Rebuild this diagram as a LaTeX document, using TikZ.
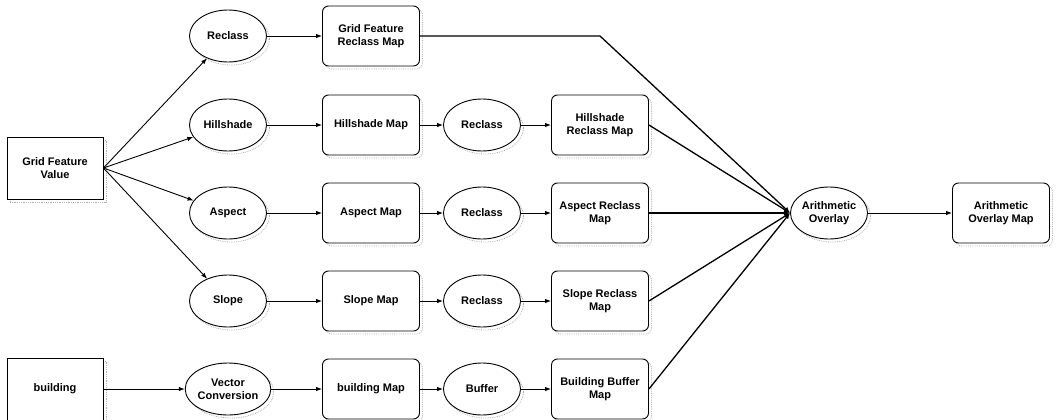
\documentclass[tikz,border=0pt]{standalone}
\usepackage{fontspec}
\setmainfont{Liberation Sans}
\usetikzlibrary{shapes.geometric,shadows,arrows.meta}
\begin{document}
\begin{tikzpicture}[x=1pt,y=-1pt,
  font=\fontsize{11}{13}\selectfont\bfseries,
  sh/.style={copy shadow={shadow xshift=3pt,shadow yshift=-3pt,draw=gray!60,line width=0.8pt,densely dotted,fill=white}},
  sqbox/.style={rectangle,draw,line width=0.9pt,fill=white,minimum width=96pt,minimum height=62pt,align=center,sh},
  mapbox/.style={rectangle,rounded corners=6pt,draw,line width=0.9pt,fill=white,minimum width=97pt,minimum height=60pt,align=center,sh},
  proc/.style={ellipse,draw,line width=0.9pt,fill=white,minimum width=77pt,minimum height=52pt,inner sep=0pt,align=center,sh},
  arr/.style={line width=0.9pt,-{Latex[length=6pt,width=4.5pt]}},
  conv/.style={line width=1.3pt,-{Latex[length=6pt,width=5pt]}}
]
\useasboundingbox (0,0) rectangle (1057,420);

\node[sqbox] (gfv) at (55,168) {Grid Feature\\Value};
\node[sqbox] (bld) at (55,389) {building};

\node[proc] (e1) at (228,36) {Reclass};
\node[proc] (e2) at (228,125) {Hillshade};
\node[proc] (e3) at (228,213) {Aspect};
\node[proc] (e4) at (228,301) {Slope};
\node[proc] (e5) at (228,389) {Vector\\Conversion};

\node[mapbox] (b1) at (371,36) {Grid Feature\\Reclass Map};
\node[mapbox] (b2) at (371,125) {Hillshade Map};
\node[mapbox] (b3) at (371,213) {Aspect Map};
\node[mapbox] (b4) at (371,301) {Slope Map};
\node[mapbox] (b5) at (371,389) {building Map};

\node[proc] (r2) at (482,125) {Reclass};
\node[proc] (r3) at (482,213) {Reclass};
\node[proc] (r4) at (482,301) {Reclass};
\node[proc] (r5) at (482,389) {Buffer};

\node[mapbox] (c2) at (600,125) {Hillshade\\Reclass Map};
\node[mapbox] (c3) at (600,213) {Aspect Reclass\\Map};
\node[mapbox] (c4) at (600,301) {Slope Reclass\\Map};
\node[mapbox] (c5) at (600,389) {Building Buffer\\Map};

\node[proc] (ao) at (829,213) {Arithmetic\\Overlay};
\node[mapbox] (aom) at (1001,213) {Arithmetic\\Overlay Map};

\coordinate (k1) at (600,36);

\draw[arr] (gfv.east) -- (e1);
\draw[arr] (gfv.east) -- (e2);
\draw[arr] (gfv.east) -- (e3);
\draw[arr] (gfv.east) -- (e4);
\draw[arr] (bld.east) -- (e5.west);

\draw[arr] (e1.east) -- (b1.west);
\draw[arr] (e2.east) -- (b2.west);
\draw[arr] (e3.east) -- (b3.west);
\draw[arr] (e4.east) -- (b4.west);
\draw[arr] (e5.east) -- (b5.west);

\draw[arr] (b2.east) -- (r2.west);
\draw[arr] (b3.east) -- (r3.west);
\draw[arr] (b4.east) -- (r4.west);
\draw[arr] (b5.east) -- (r5.west);

\draw[arr] (r2.east) -- (c2.west);
\draw[arr] (r3.east) -- (c3.west);
\draw[arr] (r4.east) -- (c4.west);
\draw[arr] (r5.east) -- (c5.west);

\draw[conv] (b1.east) -- (k1) -- (ao.west);
\draw[conv] (c2.east) -- (ao.west);
\draw[conv] (c3.east) -- (ao.west);
\draw[conv] (c4.east) -- (ao.west);
\draw[conv] (c5.east) -- (ao.west);

\draw[arr] (ao.east) -- (aom.west);
\end{tikzpicture}
\end{document}
